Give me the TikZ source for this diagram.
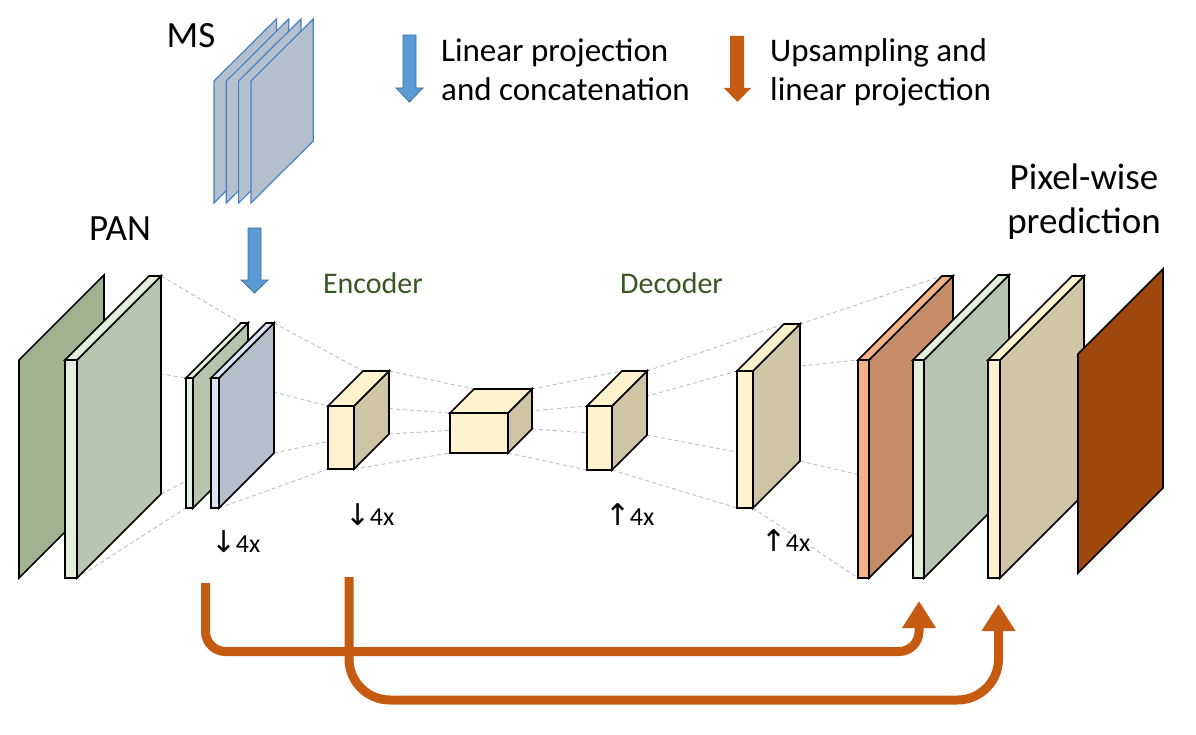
\documentclass[tikz,border=0pt]{standalone}
\usepackage{fontspec}
\setmainfont{Carlito}
\newfontfamily\arrowfont{DejaVu Sans}
\usetikzlibrary{arrows.meta}

\definecolor{panback}{RGB}{160,180,145}
\definecolor{greenfront}{RGB}{226,239,218}
\definecolor{greenside}{RGB}{183,196,174}
\definecolor{bluefront}{RGB}{218,227,243}
\definecolor{blueside}{RGB}{180,191,204}
\definecolor{yellowfront}{RGB}{255,242,204}
\definecolor{yellowside}{RGB}{207,196,166}
\definecolor{orangefront}{RGB}{244,177,131}
\definecolor{orangeside}{RGB}{197,140,104}
\definecolor{outplane}{RGB}{158,72,14}
\definecolor{msfill}{RGB}{180,192,206}
\definecolor{msline}{RGB}{70,130,195}
\definecolor{arrowblue}{RGB}{91,155,213}
\definecolor{arrowblueline}{RGB}{65,113,156}
\definecolor{skiporange}{RGB}{197,90,17}
\definecolor{stagegreen}{RGB}{56,87,35}
\definecolor{guidegray}{RGB}{192,192,192}

% corners of a feature block: name, x, y, thickness, height, depth
\newcommand{\featblock}[6]{%
  \coordinate (#1-ftl) at (#2,#3);
  \coordinate (#1-ftr) at (#2+#4,#3);
  \coordinate (#1-fbl) at (#2,#3+#5);
  \coordinate (#1-fbr) at (#2+#4,#3+#5);
  \coordinate (#1-btl) at (#2+#6,#3-#6);
  \coordinate (#1-btr) at (#2+#4+#6,#3-#6);
  \coordinate (#1-bbl) at (#2+#6,#3+#5-#6);
  \coordinate (#1-bbr) at (#2+#4+#6,#3+#5-#6);
}
% draw a block: name, front colour, side colour
\newcommand{\drawblock}[3]{%
  \filldraw[face, fill=#2] (#1-ftl) rectangle (#1-fbr);
  \filldraw[face, fill=#3] (#1-ftr) -- (#1-btr) -- (#1-bbr) -- (#1-fbr) -- cycle;
  \filldraw[face, fill=#2] (#1-ftl) -- (#1-btl) -- (#1-btr) -- (#1-ftr) -- cycle;
}
\newcommand{\drawplane}[2]{%
  \filldraw[face, fill=#2] (#1-ftl) -- (#1-btl) -- (#1-bbl) -- (#1-fbl) -- cycle;
}
\newcommand{\ratioarrow}[1]{{\arrowfont\fontsize{30}{30}\selectfont #1}\kern-1pt}

\begin{document}
\begin{tikzpicture}[x=1pt, y=-1pt,
  face/.style={draw=black, line width=1.6pt, line join=miter},
  guide/.style={draw=guidegray, line width=0.9pt, dash pattern=on 4pt off 3pt},
  msplane/.style={draw=msline, fill=msfill, line width=1.2pt},
  fatarrow/.style={fill=arrowblue, draw=arrowblueline, line width=0.8pt},
  skip/.style={draw=skiporange, line width=9pt,
    -{Triangle[length=27pt, width=32pt]}},
  bigtext/.style={font=\fontsize{37}{44}\selectfont, inner sep=0pt},
  legendtext/.style={font=\fontsize{33}{39}\selectfont, inner sep=0pt,
    align=left},
  stagetext/.style={font=\fontsize{30}{36}\selectfont, inner sep=0pt,
    text=stagegreen},
  ratiotext/.style={font=\fontsize{26}{30}\selectfont, inner sep=0pt},
]
\useasboundingbox (0,0) rectangle (1196,735);

% block geometry
\featblock{pan}{19}{360}{0}{218}{85}
\featblock{pans}{65}{360}{12}{218}{84}
\featblock{msg}{186}{378}{7}{130}{55}
\featblock{msb}{211}{378}{8}{130}{55}
\featblock{enc}{328}{406}{26}{63}{35}
\featblock{mid}{450}{413}{58}{40}{24}
\featblock{dec}{587}{406}{25}{64}{35}
\featblock{decup}{737}{371}{16}{137}{47}
\featblock{upo}{858}{360}{11}{218}{84}
\featblock{upg}{913}{360}{11}{218}{85}
\featblock{upy}{988}{360}{12}{218}{84}
\featblock{out}{1078}{354}{0}{219}{85}

% dashed guides between stages
\foreach \a/\b in {pans/msg, msb/enc, enc/mid, mid/dec, dec/decup, decup/upo} {
  \draw[guide] (\a-ftr) -- (\b-ftl);
  \draw[guide] (\a-btr) -- (\b-btl);
  \draw[guide] (\a-fbr) -- (\b-fbl);
  \draw[guide] (\a-bbr) -- (\b-bbl);
}

% feature maps
\drawplane{pan}{panback}
\drawblock{pans}{greenfront}{greenside}
\drawblock{msg}{greenfront}{greenside}
\drawblock{msb}{bluefront}{blueside}
\drawblock{enc}{yellowfront}{yellowside}
\drawblock{mid}{yellowfront}{yellowside}
\drawblock{dec}{yellowfront}{yellowside}
\drawblock{decup}{yellowfront}{yellowside}
\drawblock{upo}{orangefront}{orangeside}
\drawblock{upg}{greenfront}{greenside}
\drawblock{upy}{yellowfront}{yellowside}
\drawplane{out}{outplane}

% MS bands
\foreach \i in {0,...,3}
  \filldraw[msplane] ({214+12.3*\i},81) -- ++(62.4,-62) -- ++(0,122)
    -- ++(-62.4,62) -- cycle;

% projection arrows
\filldraw[fatarrow] (248,228) -- (261,228) -- (261,280) -- (268,280)
  -- (254.5,293) -- (241,280) -- (248,280) -- cycle;
\filldraw[fatarrow] (403,35) -- (416,35) -- (416,88) -- (423,88)
  -- (409.5,102) -- (396,88) -- (403,88) -- cycle;
\fill[skiporange] (730,36) -- (744,36) -- (744,88) -- (751,88)
  -- (737.5,102) -- (724,88) -- (730,88) -- cycle;

% labels
\node[bigtext, anchor=base] (mslabel) at (191,48) {MS};
\node[bigtext, anchor=base] (panlabel) at (120,241) {PAN};
\node[bigtext, align=center, anchor=base] (predlabel) at (1084,234)
  {Pixel-wise\\prediction};
\node[legendtext, anchor=base west] (projlabel) at (441,101)
  {Linear projection\\and concatenation};
\node[legendtext, anchor=base west] (uplabel) at (770,101)
  {Upsampling and\\linear projection};
\node[stagetext, anchor=base] (enclabel) at (373,294) {Encoder};
\node[stagetext, anchor=base] (declabel) at (671.5,294) {Decoder};
\node[ratiotext] (downa) at (236,542) {\ratioarrow{↓}4x};
\node[ratiotext] (downb) at (370,515) {\ratioarrow{↓}4x};
\node[ratiotext] (upa) at (630,515) {\ratioarrow{↑}4x};
\node[ratiotext] (upb) at (786,541) {\ratioarrow{↑}4x};

% skip connections
\coordinate (skipa) at (205.5,583);
\coordinate (skipb) at (349,577);
\coordinate (tipa) at (919,601);
\coordinate (tipb) at (998.5,604);
\draw[skip, rounded corners=20pt] (skipa) -- ++(0,68.5) -| (tipa);
\draw[skip, rounded corners=41pt] (skipb) -- ++(0,123) -| (tipb);
\end{tikzpicture}
\end{document}
